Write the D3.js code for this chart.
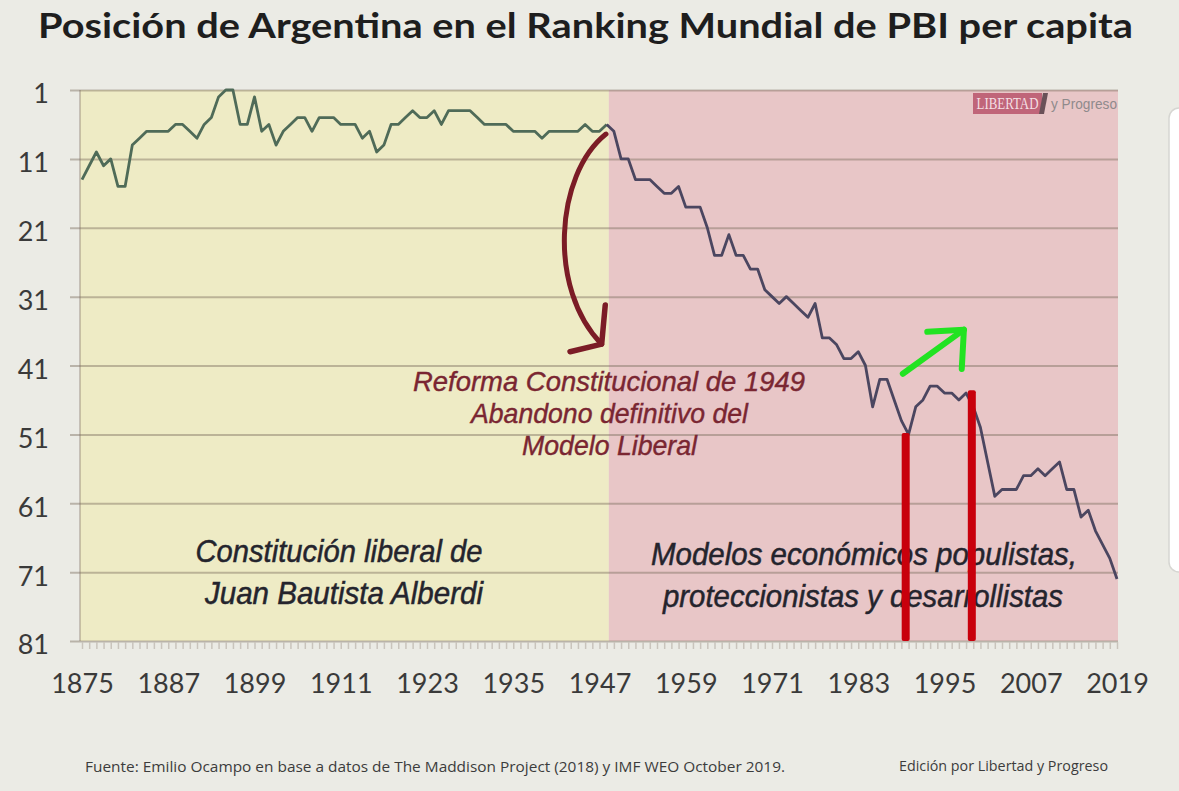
<!DOCTYPE html>
<html>
<head>
<meta charset="utf-8">
<script src="https://cdn.jsdelivr.net/npm/d3@7"></script>
<style>
  body { margin: 0; background: #ebebe5; }
  svg { display: block; }
</style>
</head>
<body>
<div id="chart"></div>
<script>
// Argentina: posicion en el ranking mundial de PBI per capita, 1875-2019
var firstYear = 1875;
var ranks = [
  14, 12, 10, 12, 11, 15, 15, 9, 8, 7,        // 1875-1884
  7, 7, 7, 6, 6, 7, 8, 6, 5, 2,               // 1885-1894
  1, 1, 6, 6, 2, 7, 6, 9, 7, 6,               // 1895-1904
  5, 5, 7, 5, 5, 5, 6, 6, 6, 8,               // 1905-1914
  7, 10, 9, 6, 6, 5, 4, 5, 5, 4,              // 1915-1924
  6, 4, 4, 4, 4, 5, 6, 6, 6, 6,               // 1925-1934
  7, 7, 7, 7, 8, 7, 7, 7, 7, 7,               // 1935-1944
  6, 7, 7, 6, 7, 11, 11, 14, 14, 14,          // 1945-1954
  15, 16, 16, 15, 18, 18, 18, 21, 25, 25,     // 1955-1964
  22, 25, 25, 27, 27, 30, 31, 32, 31, 32,     // 1965-1974
  33, 34, 32, 37, 37, 38, 40, 40, 39, 41,     // 1975-1984
  47, 43, 43, 46, 49, 51, 47, 46, 44, 44,     // 1985-1994
  45, 45, 46, 45, 47, 50, 55, 60, 59, 59,     // 1995-2004
  59, 57, 57, 56, 57, 56, 55, 59, 59, 63,     // 2005-2014
  62, 65, 67, 69, 72                          // 2015-2019
];
var years = ranks.map(function(d, i){ return firstYear + i; });
var splitYear = 1948;

var xTickYears = [1875, 1887, 1899, 1911, 1923, 1935, 1947, 1959, 1971, 1983, 1995, 2007, 2019];
var yTickRanks = [1, 11, 21, 31, 41, 51, 61, 71, 81];

var periodLabels = [
  {lines: ['Constitución liberal de', 'Juan Bautista Alberdi']},
  {lines: ['Modelos económicos populistas,', 'proteccionistas y desarrollistas']}
];
var reformLines = ['Reforma Constitucional de 1949', 'Abandono definitivo del', 'Modelo Liberal'];

// hand drawn marks, in year / rank units
var reformArrow = [[1947.9, 7.4], [1940.8, 13.3], [1939.8, 30], [1947.3, 37.9]];
var reformHead = [[1947.8, 32.2], [1947.3, 37.9], [1942.9, 39]];
var redBars = [{year: 1989.6, from: 50.8}, {year: 1998.8, from: 44.6}];
var greenShaft = [[1989.2, 42.2], [1997.7, 35.8]];
var greenHead = [[1992.6, 36.1], [1997.7, 35.8], [1997.4, 41.5]];

var W = 1179, H = 791;
var svg = d3.select('#chart').append('svg')
    .attr('width', W)
    .attr('height', H);

svg.append('rect').attr('width', W).attr('height', H).attr('fill', '#ebebe5');

var x = d3.scaleLinear().domain([1875, 2019]).range([82, 1117]);
var y = d3.scaleLinear().domain([1, 81]).range([90, 641]);

var plotLeft = 80, plotRight = 1118;

// side panel peeking in at the right edge
svg.append('rect')
    .attr('x', 1169).attr('y', 108).attr('width', 40).attr('height', 464)
    .attr('rx', 10)
    .attr('fill', '#ffffff').attr('stroke', '#d6d6d2').attr('stroke-width', 1.5);

// period backgrounds
svg.append('rect')
    .attr('x', plotLeft).attr('y', y(1))
    .attr('width', x(splitYear + 0.3) - plotLeft).attr('height', y(81) - y(1))
    .attr('fill', '#eeebc5');
svg.append('rect')
    .attr('x', x(splitYear + 0.3)).attr('y', y(1))
    .attr('width', plotRight - x(splitYear + 0.3)).attr('height', y(81) - y(1))
    .attr('fill', '#e8c6c7');

// gridlines
var grid = svg.append('g')
    .attr('transform', 'translate(70,0)')
    .call(d3.axisLeft(y).tickValues(yTickRanks).tickSize(-(plotRight - 70)).tickFormat(''));
grid.select('.domain').remove();
grid.selectAll('line').attr('stroke', '#7d6e60').attr('stroke-opacity', 0.45).attr('stroke-width', 2);

svg.append('line')
    .attr('x1', plotLeft).attr('x2', plotLeft).attr('y1', y(1)).attr('y2', y(81))
    .attr('stroke', '#7d6e60').attr('stroke-opacity', 0.35).attr('stroke-width', 2);

// minor year ticks under the plot
var minor = svg.append('g')
    .attr('transform', 'translate(0,' + (y(81) + 1) + ')')
    .call(d3.axisBottom(x).tickValues(years).tickSize(7).tickFormat(''));
minor.select('.domain').remove();
minor.selectAll('line').attr('stroke', '#c9c4bc').attr('stroke-width', 1.5);

// y labels
var yAxis = svg.append('g')
    .attr('transform', 'translate(49,0)')
    .call(d3.axisLeft(y).tickValues(yTickRanks).tickSize(0).tickPadding(0));
yAxis.select('.domain').remove();
yAxis.selectAll('text')
    .attr('dy', '0.48em')
    .style('font-family', 'Lato, sans-serif')
    .style('font-size', '27px')
    .attr('fill', '#3a3a3a');

// x labels
var xAxis = svg.append('g')
    .attr('transform', 'translate(0,' + y(81) + ')')
    .call(d3.axisBottom(x).tickValues(xTickYears).tickSize(0).tickPadding(33).tickFormat(d3.format('d')));
xAxis.select('.domain').remove();
xAxis.selectAll('text')
    .style('font-family', 'Lato, sans-serif')
    .style('font-size', '27px')
    .attr('fill', '#3a3a3a');

// the ranking line, two colours
var line = d3.line()
    .x(function(d){ return x(d.year); })
    .y(function(d){ return y(d.rank); });
var pts = years.map(function(yr, i){ return {year: yr, rank: ranks[i]}; });

svg.append('path')
    .datum(pts.filter(function(d){ return d.year <= splitYear; }))
    .attr('d', line)
    .attr('fill', 'none').attr('stroke', '#4f6b58').attr('stroke-width', 2.8)
    .attr('stroke-linejoin', 'round');
svg.append('path')
    .datum(pts.filter(function(d){ return d.year >= splitYear; }))
    .attr('d', line)
    .attr('fill', 'none').attr('stroke', '#4b4660').attr('stroke-width', 2.8)
    .attr('stroke-linejoin', 'round');

// text helper: fits a line into the width it has in the picture
function fitText(g, txt, cx, by, width, size, family, style, weight, color, anchor, thick){
    var t = g.append('text')
        .attr('x', cx).attr('y', by)
        .attr('text-anchor', anchor || 'middle')
        .attr('textLength', width)
        .attr('lengthAdjust', 'spacingAndGlyphs')
        .style('font-family', family)
        .style('font-size', size + 'px')
        .style('font-style', style)
        .style('font-weight', weight)
        .attr('fill', color)
        .text(txt);
    if(thick){
        t.attr('stroke', color).attr('stroke-width', thick);
    }
    return t;
}

// title
fitText(svg, 'Posición de Argentina en el Ranking Mundial de PBI per capita',
    585.5, 38, 1095, 34, 'Lato, sans-serif', 'normal', 'bold', '#1e1e1e');

// period labels
var sans = '"Liberation Sans", Arial, sans-serif';
fitText(svg, periodLabels[0].lines[0], 339, 562, 287, 32, sans, 'italic', 'normal', '#24242d', 'middle', 0.5);
fitText(svg, periodLabels[0].lines[1], 344, 604, 278, 32, sans, 'italic', 'normal', '#24242d', 'middle', 0.5);
fitText(svg, periodLabels[1].lines[0], 864, 565, 426, 32, sans, 'italic', 'normal', '#24242d', 'middle', 0.5);
fitText(svg, periodLabels[1].lines[1], 863, 607, 400, 32, sans, 'italic', 'normal', '#24242d', 'middle', 0.5);

// reform annotation
var reformWidths = [392, 277, 175];
var reformCx = [609, 609.5, 609.5];
reformLines.forEach(function(t, i){
    fitText(svg, t, reformCx[i], 391 + i * 32, reformWidths[i], 28, sans, 'italic', 'normal', '#7a2632', 'middle', 0.4);
});

function toPx(p){ return [x(p[0]), y(p[1])]; }
var a = reformArrow.map(toPx);
svg.append('path')
    .attr('d', 'M' + a[0] + 'C' + a[1] + ' ' + a[2] + ' ' + a[3])
    .attr('fill', 'none').attr('stroke', '#7b1c26').attr('stroke-width', 5)
    .attr('stroke-linecap', 'round');
svg.append('path')
    .attr('d', 'M' + reformHead.map(toPx).join('L'))
    .attr('fill', 'none').attr('stroke', '#7b1c26').attr('stroke-width', 5.5)
    .attr('stroke-linecap', 'round').attr('stroke-linejoin', 'round');

// red markers
svg.selectAll('rect.marker')
    .data(redBars)
    .enter().append('rect')
    .attr('class', 'marker')
    .attr('x', function(d){ return x(d.year) - 4; })
    .attr('y', function(d){ return y(d.from); })
    .attr('width', 8)
    .attr('height', function(d){ return y(81) - y(d.from); })
    .attr('rx', 2)
    .attr('fill', '#c8000c');

// green arrow
svg.append('path')
    .attr('d', 'M' + greenShaft.map(toPx).join('L'))
    .attr('fill', 'none').attr('stroke', '#22e322').attr('stroke-width', 6)
    .attr('stroke-linecap', 'round');
svg.append('path')
    .attr('d', 'M' + greenHead.map(toPx).join('L'))
    .attr('fill', 'none').attr('stroke', '#22e322').attr('stroke-width', 6)
    .attr('stroke-linecap', 'round').attr('stroke-linejoin', 'round');

// logo
var logo = svg.append('g');
logo.append('rect')
    .attr('x', 973).attr('y', 93).attr('width', 69).attr('height', 21)
    .attr('fill', '#c06579');
fitText(logo, 'LIBERTAD', 1007.5, 109, 62, 16, '"Liberation Serif", serif', 'normal', 'normal', '#f4dfe3');
logo.append('path')
    .attr('d', 'M1043,93L1048,93L1044,114L1039,114Z')
    .attr('fill', '#6a5158');
fitText(logo, 'y Progreso', 1051, 109, 66, 14, sans, 'normal', 'normal', '#8f8a8c', 'start');

// footer
fitText(svg, 'Fuente: Emilio Ocampo en base a datos de The Maddison Project (2018) y IMF WEO October 2019.',
    85, 772, 700, 14, '"Open Sans", sans-serif', 'normal', 'normal', '#3c3c3c', 'start');
fitText(svg, 'Edición por Libertad y Progreso',
    899, 771, 209, 14, '"Open Sans", sans-serif', 'normal', 'normal', '#3c3c3c', 'start');
</script>
</body>
</html>
